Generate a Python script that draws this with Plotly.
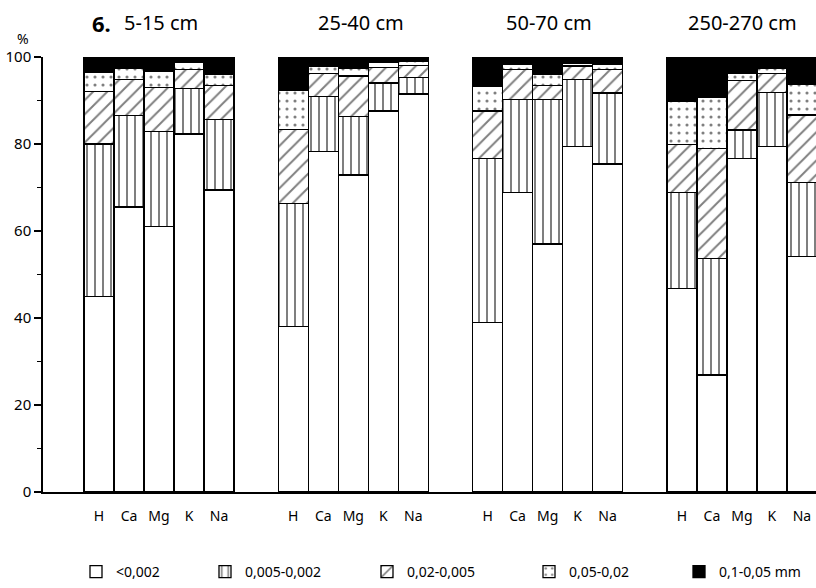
import plotly.graph_objects as go

depths = ["5-15 cm", "25-40 cm", "50-70 cm", "250-270 cm"]
cations = ["H", "Ca", "Mg", "K", "Na"]
fractions = ["<0,002", "0,005-0,002", "0,02-0,005", "0,05-0,02", "0,1-0,05 mm"]

# percentages per fraction, ordered depth by depth, cation by cation (H, Ca, Mg, K, Na)
clay_lt_0002 = [45, 65.5, 61, 82.3, 69.4,
                38, 78.2, 72.9, 87.6, 91.5,
                39, 68.8, 57, 79.4, 75.4,
                46.8, 26.9, 76.7, 79.4, 54.1]
f_0005_0002 = [35, 21, 21.8, 10.5, 16.3,
               28.4, 12.8, 13.5, 6.4, 3.8,
               37.6, 21.5, 33.3, 15.5, 16.3,
               22.1, 26.8, 6.5, 12.5, 17.1]
f_002_0005 = [12, 8.4, 10.2, 4.4, 7.7,
              17, 5.2, 9.2, 3.6, 2.8,
              11, 6.9, 3.1, 3.0, 5.5,
              11, 25.2, 11.4, 4.3, 15.5]
f_005_002 = [4.5, 2.5, 3.8, 1.5, 2.6,
             9, 1.6, 1.8, 1.1, 1.0,
             5.6, 1.0, 2.7, 0.6, 1.0,
             9.8, 11.8, 1.6, 1.3, 6.9]
f_01_005 = [3.5, 2.6, 3.2, 1.3, 4.0,
            7.6, 2.2, 2.6, 1.3, 0.9,
            6.8, 1.8, 3.9, 1.5, 1.8,
            10.3, 9.3, 3.8, 2.5, 6.4]

series = [clay_lt_0002, f_0005_0002, f_002_0005, f_005_002, f_01_005]

# layout geometry (pixels)
W, H = 816, 588
ML, MR, MT, MB = 43, 0, 57, 96
PW = W - ML - MR
PH = H - MT - MB
BARPX = 30.0
xmax = PW / BARPX
g0 = (84 - ML) / BARPX
gstep = 194.3 / BARPX

xpos, xlab = [], []
for k in range(len(depths)):
    for j in range(len(cations)):
        xpos.append(g0 + k * gstep + j + 0.5)
        xlab.append(cations[j])

styles = [
    dict(color="white"),
    dict(color="white", pattern=dict(shape="|", fgcolor="black", bgcolor="white", size=8, solidity=0.25)),
    dict(color="white", pattern=dict(shape="/", fgcolor="black", bgcolor="white", size=10, solidity=0.2)),
    dict(color="white", pattern=dict(shape=".", fgcolor="black", bgcolor="white", size=8, solidity=0.12)),
    dict(color="black"),
]

legend_ids = ["legend", "legend2", "legend3", "legend4", "legend5"]
legend_box_px = [98, 227, 389, 551, 701]

fig = go.Figure()
for name, vals, st, lid in zip(fractions, series, styles, legend_ids):
    marker = dict(st)
    marker["line"] = dict(color="black", width=1.3)
    fig.add_trace(go.Bar(x=xpos, y=vals, width=1.0, name=name, marker=marker, legend=lid))

font_main = "Noto Sans"
fig.update_layout(
    width=W, height=H,
    margin=dict(l=ML, r=MR, t=MT, b=MB, pad=0),
    barmode="stack",
    plot_bgcolor="white", paper_bgcolor="white",
    font=dict(family=font_main, color="black", size=14),
    showlegend=True,
    xaxis=dict(range=[0, xmax], tickmode="array", tickvals=xpos, ticktext=xlab,
               showline=True, linecolor="black", linewidth=1.5, ticks="",
               ticklabelstandoff=10,
               showgrid=False, zeroline=False, tickfont=dict(size=14)),
    yaxis=dict(range=[0, 100], tickmode="array", tickvals=[0, 20, 40, 60, 80, 100],
               showline=True, linecolor="black", linewidth=1.5, ticks="outside",
               ticklen=7, tickwidth=1.5, tickcolor="black", showgrid=False, zeroline=False,
               tickfont=dict(size=15),
               minor=dict(tickvals=[10, 30, 50, 70, 90], ticks="outside", ticklen=4,
                          tickwidth=1.2, tickcolor="black")),
)
for lid, bx in zip(legend_ids, legend_box_px):
    fig.update_layout({lid: dict(orientation="h", x=(bx - 22 - ML) / PW, y=(492 - 572) / PH,
                                 xanchor="left", yanchor="middle", font=dict(size=14),
                                 bgcolor="rgba(0,0,0,0)", itemwidth=30)})

# titles
title_y = (492 - 23) / PH
fig.add_annotation(x=(90 - ML) / PW, y=title_y, xref="paper", yref="paper",
                   text="<b>6.</b>", showarrow=False, xanchor="left", yanchor="middle",
                   font=dict(size=22))
title_x = [161, 361, 549, 742]
for k, d in enumerate(depths):
    fig.add_annotation(x=(title_x[k] - ML) / PW, y=title_y, xref="paper", yref="paper",
                       text=d, showarrow=False, xanchor="center", yanchor="middle",
                       font=dict(size=20))
fig.add_annotation(x=(23 - ML) / PW, y=(492 - 39) / PH, xref="paper", yref="paper",
                   text="%", showarrow=False, xanchor="center", yanchor="middle",
                   font=dict(size=14))

fig.write_html("out.html")
